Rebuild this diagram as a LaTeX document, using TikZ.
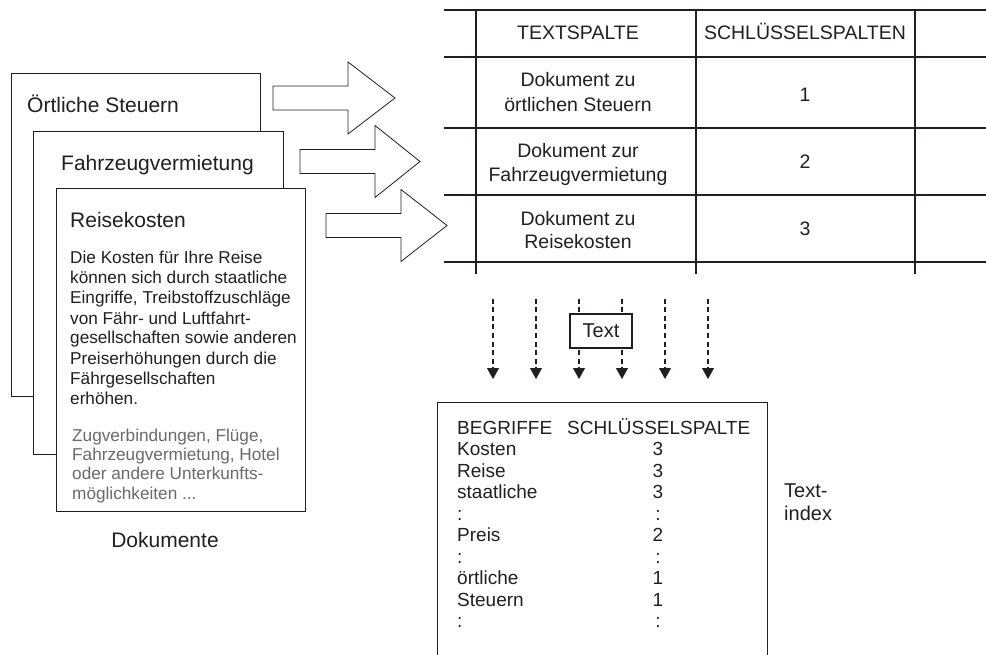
\documentclass[tikz,border=0pt]{standalone}
\usepackage{fontspec}
\setmainfont{Liberation Sans}
\usetikzlibrary{arrows.meta}
\definecolor{ink}{HTML}{231F20}
\definecolor{grayink}{HTML}{6A6A6A}
\newcommand{\mythreedots}{...}
\tikzset{
  docbox/.style={draw=ink, line width=1.3pt, fill=white, anchor=north west, inner sep=0pt},
  doctitle/.style={anchor=base west, inner sep=0pt, text=ink, font=\fontsize{21}{25}\selectfont},
  bodyline/.style={anchor=base west, inner sep=0pt, text=ink, font=\fontsize{17.2}{20}\selectfont},
  grayline/.style={anchor=base west, inner sep=0pt, text=grayink, font=\fontsize{17.2}{20}\selectfont},
  celltext/.style={anchor=base, inner sep=0pt, text=ink, font=\fontsize{19.5}{24}\selectfont},
  idxtext/.style={anchor=base west, inner sep=0pt, text=ink, font=\fontsize{19}{22}\selectfont},
  idxnum/.style={anchor=base, inner sep=0pt, text=ink, font=\fontsize{19}{22}\selectfont},
  thickrule/.style={draw=ink, line width=2pt},
  thinrule/.style={draw=ink, line width=1.1pt},
  dasharrow/.style={draw=ink, line width=1.1pt, dash pattern=on 5pt off 3.5pt, -{Triangle[length=11pt,width=12pt]}},
  blockarrow/.pic={\draw[draw=ink, line width=0.8pt, fill=white] (0,-12) -- (75,-12) -- (75,-36) -- (#1,0) -- (75,36) -- (75,12) -- (0,12) -- cycle;},
}
\begin{document}
\begin{tikzpicture}[x=1pt, y=-1pt]
\useasboundingbox (0,0) rectangle (986,655);

% document stack
\node[docbox, minimum width=249pt, minimum height=323pt] (doc1) at (11,73) {};
\node[doctitle] (t1) at (27,113) {Örtliche Steuern};
\node[docbox, minimum width=250pt, minimum height=323pt] (doc2) at (33,131) {};
\node[doctitle] (t2) at (61,171) {Fahrzeugvermietung};
\node[docbox, minimum width=249pt, minimum height=323pt] (doc3) at (56,188) {};
\node[doctitle] (t3) at (70,228) {Reisekosten};
\foreach \t [count=\i] in {Die Kosten für Ihre Reise, können sich durch staatliche, {Eingriffe, Treibstoffzuschläge}, von Fähr- und Luftfahrt-, gesellschaften sowie anderen, Preiserhöhungen durch die, Fährgesellschaften, erhöhen.}
  \node[bodyline] (body\i) at (70,{264+20*(\i-1)}) {\t};
\foreach \t [count=\i] in {{Zugverbindungen, Flüge,}, {Fahrzeugvermietung, Hotel}, oder andere Unterkunfts-, {möglichkeiten \mythreedots}}
  \node[grayline] (gray\i) at (72,{441+19.4*(\i-1)}) {\t};
\node[anchor=base, inner sep=0pt, text=ink, font=\fontsize{21}{25}\selectfont] (dokumente) at (165,547) {Dokumente};

% block arrows
\pic at (273,98) {blockarrow=122};
\pic at (300,161.5) {blockarrow=120};
\pic at (326,225.5) {blockarrow=121};

% table
\draw[thickrule] (444,10) -- (986,10);
\draw[thickrule] (444,57) -- (986,57);
\foreach \yy in {128,195,262}
  \draw[thinrule] (444,\yy) -- (986,\yy);
\foreach \xx in {476,696,915}
  \draw[thinrule] (\xx,10) -- (\xx,274);
\node[celltext] (h1) at (578,40) {TEXTSPALTE};
\node[celltext] (h2) at (805,40) {SCHLÜSSELSPALTEN};
\node[celltext] (r1a) at (578,87) {Dokument zu};
\node[celltext] (r1b) at (578,112) {örtlichen Steuern};
\node[celltext] (r2a) at (578,158) {Dokument zur};
\node[celltext] (r2b) at (578,182) {Fahrzeugvermietung};
\node[celltext] (r3a) at (578,226) {Dokument zu};
\node[celltext] (r3b) at (578,249) {Reisekosten};
\node[celltext] (n1) at (805,102) {1};
\node[celltext] (n2) at (805,169) {2};
\node[celltext] (n3) at (805,236) {3};

% dashed arrows
\foreach \xx [count=\i] in {493,536,579,622,665,708} {
  \coordinate (top\i) at (\xx,299);
  \coordinate (bot\i) at (\xx,379);
  \draw[dasharrow] (top\i) -- (bot\i);
}
\node[draw=ink, line width=1.1pt, fill=white, minimum width=62pt, minimum height=34pt, inner sep=0pt, text=ink, font=\fontsize{20}{24}\selectfont] (textbox) at (601,331) {Text};

% text index
\node[draw=ink, line width=1.3pt, anchor=north west, minimum width=330pt, minimum height=270pt, inner sep=0pt] (idx) at (437,402) {};
\node[idxtext] (ih1) at (457,434) {BEGRIFFE};
\node[idxtext] (ih2) at (567,434) {SCHLÜSSELSPALTE};
\foreach \w/\n [count=\i] in {Kosten/3, Reise/3, staatliche/3, :/:, Preis/2, :/:, örtliche/1, Steuern/1, :/:} {
  \node[idxtext] (iw\i) at (457,{434+21.5*\i}) {\w};
  \node[idxnum] (in\i) at (658,{434+21.5*\i}) {\n};
}
\node[anchor=base west, inner sep=0pt, text=ink, font=\fontsize{20}{24}\selectfont] (tindex1) at (784,497) {Text-};
\node[anchor=base west, inner sep=0pt, text=ink, font=\fontsize{20}{24}\selectfont] (tindex2) at (784,520) {index};
\end{tikzpicture}
\end{document}
